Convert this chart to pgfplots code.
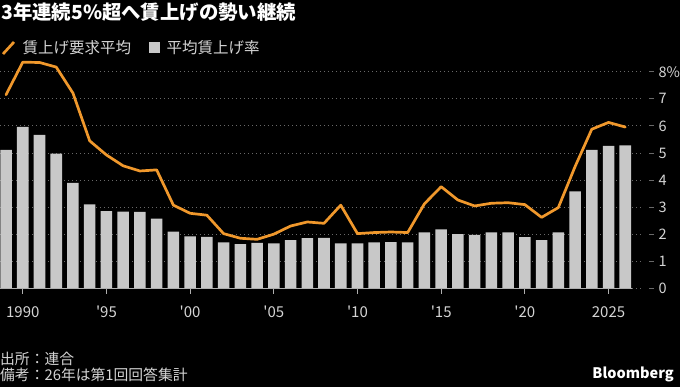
\documentclass[border=0pt]{standalone}
\usepackage{pgfplots}
\pgfplotsset{compat=1.18}
\usepackage{fontspec}
\setmainfont{Noto Sans CJK JP}
\definecolor{lineorange}{RGB}{240,152,44}
\definecolor{bargray}{RGB}{200,200,200}
\definecolor{txtgray}{RGB}{212,212,212}
\definecolor{gridgray}{RGB}{105,105,105}
\definecolor{basegray}{RGB}{175,175,175}

\begin{document}
\begin{tikzpicture}[x=1pt,y=1pt]
\useasboundingbox (0pt,0pt) rectangle (680pt,387pt);
\fill[black] (0pt,0pt) rectangle (680pt,387pt);
\begin{axis}[
  at={(0pt,98.3pt)}, anchor=south west, scale only axis,
  width=643pt, height=217pt,
  xmin=1988.64, xmax=2027.06, ymin=0, ymax=8,
  clip=false,
  axis line style={draw=none},
  ytick={0,1,...,8}, yticklabels={0,1,2,3,4,5,6,7,8\%},
  xtick={1990,1995,...,2025},
  xticklabels={1990,\textquotesingle 95,\textquotesingle 00,\textquotesingle 05,\textquotesingle 10,\textquotesingle 15,\textquotesingle 20,2025},
  ymajorgrids,
  grid style={gridgray, line width=0.9pt, dash pattern=on 1.2pt off 2.8pt},
  xtick pos=bottom, ytick pos=right,
  tick align=outside, major tick length=5pt,
  xtick style={basegray, line width=0.9pt},
  ytick style={gridgray, line width=0.9pt, xshift=6pt},
  yticklabel style={anchor=west, font=\fontsize{14.5}{16}\selectfont},
  yticklabel shift=7pt,
  xticklabel shift=9pt,
  xticklabel style={font=\fontsize{15}{16}\selectfont},
  ticklabel style={text=txtgray},
  /pgf/number format/assume math mode=true,
]
\addplot[ybar, bar width=0.69, fill=bargray, draw=none] coordinates {
(1989,5.12) (1990,5.97) (1991,5.67) (1992,4.98) (1993,3.90) (1994,3.11)
(1995,2.86) (1996,2.84) (1997,2.83) (1998,2.58) (1999,2.10) (2000,1.93)
(2001,1.91) (2002,1.71) (2003,1.64) (2004,1.69) (2005,1.67) (2006,1.79)
(2007,1.86) (2008,1.87) (2009,1.67) (2010,1.67) (2011,1.71) (2012,1.72)
(2013,1.71) (2014,2.08) (2015,2.19) (2016,2.01) (2017,1.98) (2018,2.08)
(2019,2.08) (2020,1.90) (2021,1.79) (2022,2.08) (2023,3.59) (2024,5.12)
(2025,5.27) (2026,5.28)
};
\draw[basegray, line width=0.9pt] (axis cs:1988.64,0) -- (axis cs:2026.4,0);
\addplot[lineorange, line width=2.7pt, line join=round, line cap=round, mark=none] coordinates {
(1989,7.15) (1990,8.35) (1991,8.34) (1992,8.17) (1993,7.21) (1994,5.45)
(1995,4.93) (1996,4.53) (1997,4.34) (1998,4.38) (1999,3.08) (2000,2.78)
(2001,2.71) (2002,2.03) (2003,1.86) (2004,1.82) (2005,2.01) (2006,2.31)
(2007,2.46) (2008,2.41) (2009,3.08) (2010,2.03) (2011,2.07) (2012,2.09)
(2013,2.07) (2014,3.13) (2015,3.76) (2016,3.27) (2017,3.05) (2018,3.15)
(2019,3.17) (2020,3.10) (2021,2.63) (2022,2.99) (2023,4.50) (2024,5.88)
(2025,6.13) (2026,5.96)
};
\end{axis}
% title
\node[anchor=base west, inner sep=0, text=white, font=\fontsize{19.4}{22}\selectfont\bfseries] at (1pt,367.5pt) {3年連続5\%超へ賃上げの勢い継続};
% legend
\draw[lineorange, line width=2.7pt] (3pt,333pt) -- (14pt,345pt);
\node[anchor=base west, inner sep=0, text=txtgray, font=\fontsize{15.5}{17}\selectfont] at (22.5pt,333.5pt) {賃上げ要求平均};
\fill[bargray] (149pt,334pt) rectangle (160pt,345pt);
\node[anchor=base west, inner sep=0, text=txtgray, font=\fontsize{15.5}{17}\selectfont] at (166.5pt,333.5pt) {平均賃上げ率};
% footer
\node[anchor=base west, inner sep=0, text=txtgray, font=\fontsize{14.8}{16}\selectfont] at (0pt,22pt) {出所：連合};
\node[anchor=base west, inner sep=0, text=txtgray, font=\fontsize{14.8}{16}\selectfont] at (0pt,6.5pt) {備考：26年は第1回回答集計};
\node[anchor=base east, inner sep=0, text=white, font=\fontsize{14.5}{16}\selectfont\bfseries] at (674pt,8.5pt) {Bloomberg};
\end{tikzpicture}
\end{document}
